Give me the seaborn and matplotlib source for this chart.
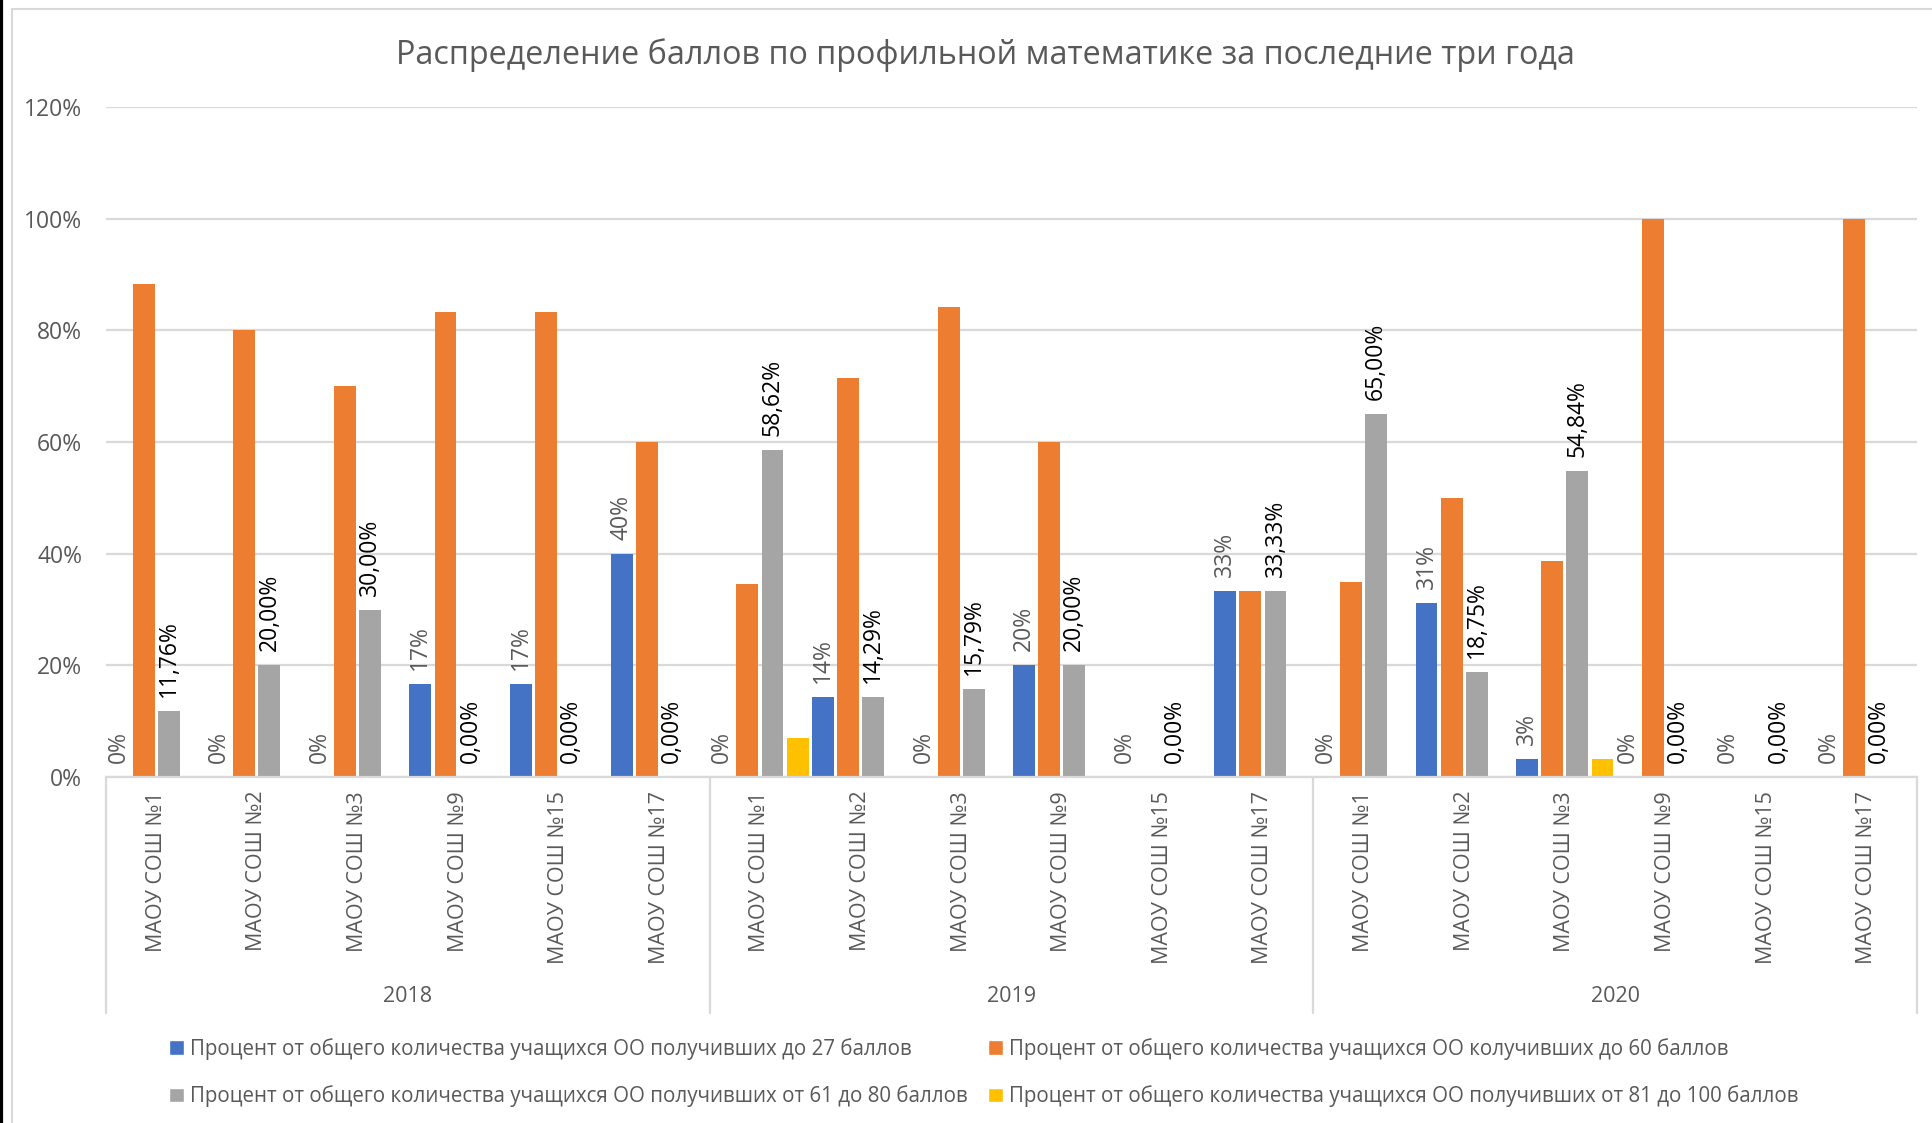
import seaborn as sns
import matplotlib.pyplot as plt
import pandas as pd
from matplotlib.patches import Patch
from matplotlib.lines import Line2D

# Data
years = ["2018", "2019", "2020"]
schools = ["МАОУ СОШ №1", "МАОУ СОШ №2", "МАОУ СОШ №3",
           "МАОУ СОШ №9", "МАОУ СОШ №15", "МАОУ СОШ №17"]
series = [
    "Процент от общего количества учащихся ОО получивших до 27 баллов",
    "Процент от общего количества учащихся ОО колучивших до 60 баллов",
    "Процент от общего количества учащихся ОО получивших от 61 до 80 баллов",
    "Процент от общего количества учащихся ОО получивших от 81 до 100 баллов",
]
# 18 categories: 2018 x 6 schools, 2019 x 6, 2020 x 6
below_27 = [0, 0, 0, 16.67, 16.67, 40,
            0, 14.29, 0, 20, 0, 33.33,
            0, 31.25, 3.23, 0, 0, 0]
below_60 = [88.24, 80, 70, 83.33, 83.33, 60,
            34.48, 71.43, 84.21, 60, 0, 33.33,
            35, 50, 38.71, 100, 0, 100]
from_61_to_80 = [11.76, 20, 30, 0, 0, 0,
                 58.62, 14.29, 15.79, 20, 0, 33.33,
                 65, 18.75, 54.84, 0, 0, 0]
from_81_to_100 = [0, 0, 0, 0, 0, 0,
                  6.90, 0, 0, 0, 0, 0,
                  0, 0, 3.23, 0, 0, 0]
colors = ["#4472C4", "#ED7D31", "#A5A5A5", "#FFC000"]

keys = [y + "|" + s for y in years for s in schools]
rows = []
for name, vals in zip(series, [below_27, below_60, from_61_to_80, from_81_to_100]):
    for k, v in zip(keys, vals):
        rows.append({"cat": k, "series": name, "value": v})
df = pd.DataFrame(rows)

sns.set_theme(style="white")
plt.rcParams['font.family'] = ['Open Sans', 'DejaVu Sans']

fig = plt.figure(figsize=(19.33, 11.23), dpi=100)
ax = fig.add_axes([0.0548, 0.3081, 0.9369, 0.5966])

sns.barplot(data=df, x="cat", y="value", hue="series", order=keys,
            hue_order=series, palette=colors, saturation=1, width=1.0, gap=0.13,
            errorbar=None, linewidth=0, ax=ax, legend=False)

ax.set_ylim(0, 120)
ax.set_xlim(-0.5, len(keys) - 0.5)
ax.set_yticks(range(0, 121, 20))
ax.set_yticklabels([f"{t}%" for t in range(0, 121, 20)], color="#595959", fontsize=16.5)
ax.yaxis.grid(True, color="#D9D9D9", linewidth=1.6)
ax.set_axisbelow(True)
for side in ["top", "right", "left"]:
    ax.spines[side].set_visible(False)
ax.spines["bottom"].set_color("#D9D9D9")
ax.spines["bottom"].set_linewidth(1.6)
ax.tick_params(axis="y", length=0, pad=17)
ax.tick_params(axis="x", length=0, pad=10)
ax.set_xticks(range(len(keys)))
ax.set_xticklabels([k.split("|")[1] for k in keys], rotation=90,
                   color="#595959", fontsize=15.5)
ax.set_xlabel("")
ax.set_ylabel("")

# data labels
ax.bar_label(ax.containers[0], labels=[f"{round(v)}%" for v in below_27],
             rotation=90, padding=10, color="#595959", fontsize=16.5)
ax.bar_label(ax.containers[2],
             labels=[f"{v:.2f}%".replace(".", ",") for v in from_61_to_80],
             rotation=90, padding=10, color="black", fontsize=16.5)

# year level of the category axis
trans = ax.get_xaxis_transform()
for x in [-0.5, 5.5, 11.5, 17.5]:
    ax.plot([x, x], [0, -0.352], transform=trans, color="#D9D9D9",
            linewidth=1.6, clip_on=False)
for i, y in enumerate(years):
    ax.text(i * 6 + 2.5, -0.327, y, transform=trans, ha="center", va="center",
            color="#595959", fontsize=15.5)

fig.suptitle("Распределение баллов по профильной математике за последние три года",
             x=0.51, y=0.966, color="#595959", fontsize=23.3)

handles = [Patch(facecolor=c, label=s) for c, s in zip(colors, series)]
handles = [handles[0], handles[2], handles[1], handles[3]]
fig.legend(handles=handles, loc="center", bbox_to_anchor=(0.509, 0.045),
           ncol=2, frameon=False, fontsize=14.8, labelcolor="#595959",
           handlelength=0.7, handleheight=0.7, handletextpad=0.3,
           columnspacing=1.0, labelspacing=1.25)

# chart area border like the screenshot
fig.add_artist(Line2D([12 / 1933, 12 / 1933], [0, 1 - 9 / 1123],
                      transform=fig.transFigure, color="#D9D9D9", linewidth=1.5))
fig.add_artist(Line2D([12 / 1933, 1], [1 - 9 / 1123, 1 - 9 / 1123],
                      transform=fig.transFigure, color="#D9D9D9", linewidth=1.5))
fig.add_artist(Line2D([1.5 / 1933, 1.5 / 1933], [0, 1],
                      transform=fig.transFigure, color="black", linewidth=3))

fig.savefig("out.png", dpi=100)
